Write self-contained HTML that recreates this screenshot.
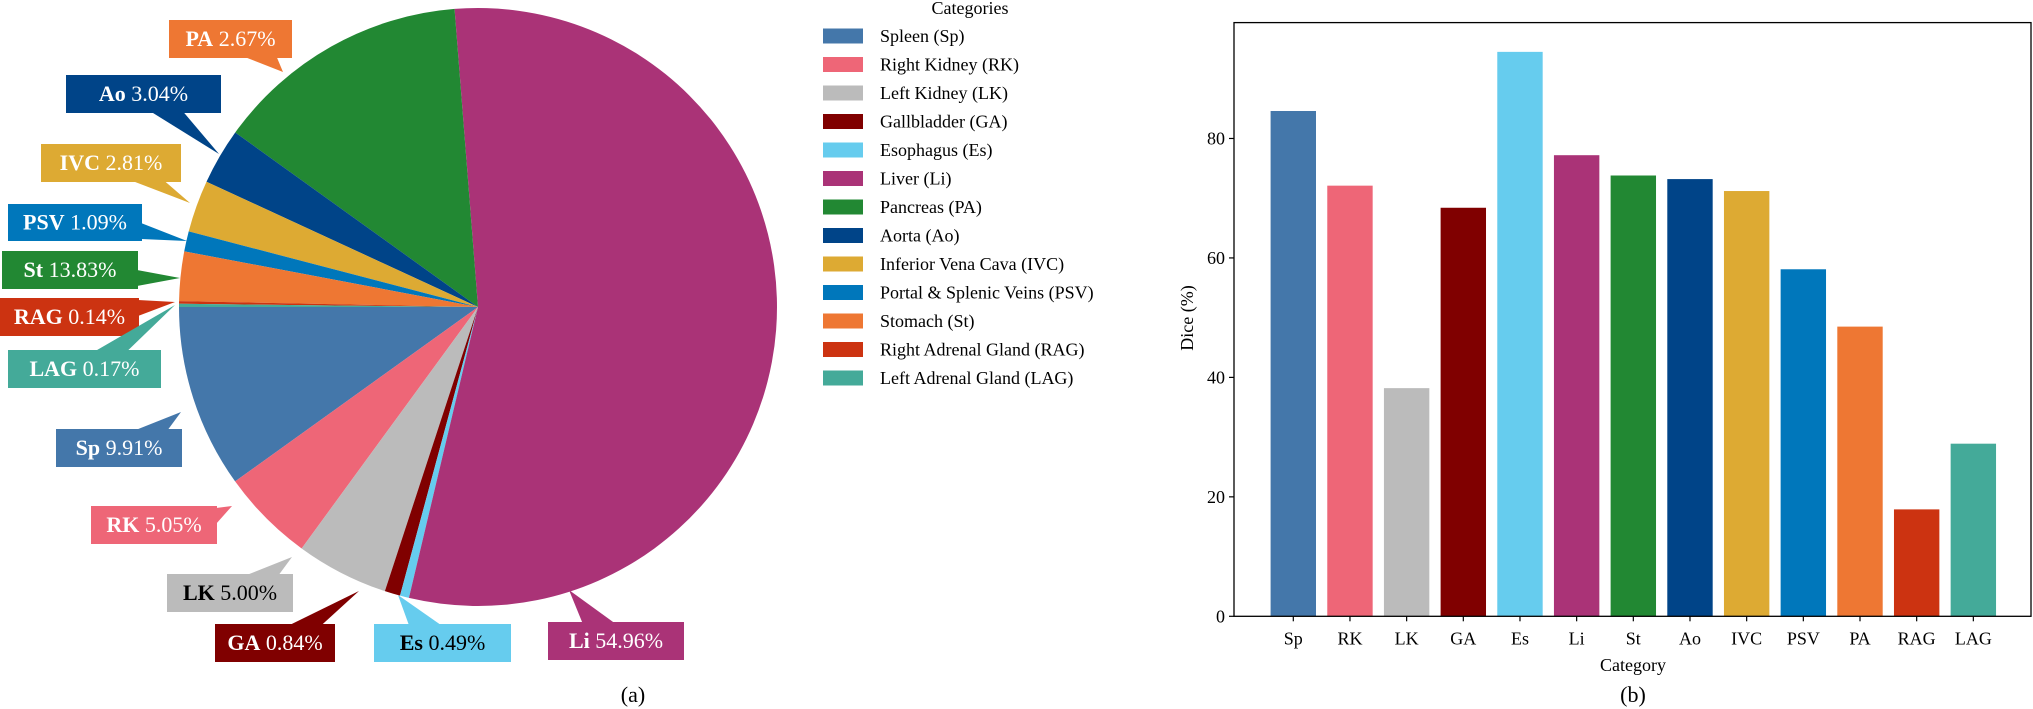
<!DOCTYPE html>
<html><head><meta charset="utf-8"><style>
html,body{margin:0;padding:0;background:#fff;}
svg{display:block;font-family:"Liberation Serif",serif;}
</style></head><body>
<svg id="fig" width="2033" height="709" viewBox="0 0 2033 709" xmlns="http://www.w3.org/2000/svg">
<g id="pie"></g>
<g id="legend"></g>
<g id="bar"></g>
<text x="633" y="702" font-size="22" text-anchor="middle">(a)</text>
<text x="1633" y="702" font-size="22" text-anchor="middle">(b)</text>
</svg>
<script>
// ---- Pie data ----
const pieLabels = ["Sp","RK","LK","GA","Es","Li","St","Ao","IVC","PSV","PA","RAG","LAG"];
const pieValues = [9.91,5.05,5.00,0.84,0.49,54.96,13.83,3.04,2.81,1.09,2.67,0.14,0.17];
const pieColors = ["#4477AA","#EE6677","#BBBBBB","#800000","#66CCEE","#AA3377","#228833","#004488","#DDAA33","#0077BB","#EE7733","#CC3311","#44AA99"];
// ---- Legend ----
const legendNames = ["Spleen (Sp)","Right Kidney (RK)","Left Kidney (LK)","Gallbladder (GA)","Esophagus (Es)","Liver (Li)","Pancreas (PA)","Aorta (Ao)","Inferior Vena Cava (IVC)","Portal & Splenic Veins (PSV)","Stomach (St)","Right Adrenal Gland (RAG)","Left Adrenal Gland (LAG)"];
// ---- Bar data ----
const barCats = ["Sp","RK","LK","GA","Es","Li","St","Ao","IVC","PSV","PA","RAG","LAG"];
const barValues = [84.6,72.1,38.2,68.4,94.5,77.2,73.8,73.2,71.2,58.1,48.5,17.9,28.9];
const barColors = ["#4477AA","#EE6677","#BBBBBB","#800000","#66CCEE","#AA3377","#228833","#004488","#DDAA33","#0077BB","#EE7733","#CC3311","#44AA99"];
const yTicks = [0,20,40,60,80];

const NS="http://www.w3.org/2000/svg";
function mk(tag,attrs,parent){const e=document.createElementNS(NS,tag);for(const k in attrs)e.setAttribute(k,attrs[k]);parent.appendChild(e);return e;}

// Pie
const pie=document.getElementById('pie');
const cx=478,cy=307,R=299;
const total=pieValues.reduce((a,b)=>a+b,0);
let ang=180;
function pt(a){const r=a*Math.PI/180;return [cx+R*Math.cos(r),cy-R*Math.sin(r)];}
pieValues.forEach((v,i)=>{
  const a0=ang,a1=ang+v/total*360;ang=a1;
  const p0=pt(a0),p1=pt(a1);const large=(a1-a0)>180?1:0;
  const p=mk('path',{d:`M${cx},${cy} L${p0[0]},${p0[1]} A${R},${R} 0 ${large} 0 ${p1[0]},${p1[1]} Z`,fill:pieColors[i]},pie);
  
  
});
// annotation layout (box x,y,w,h, tip x,y)
const boxes={
 PA:[169,20,123,38,283,72], Ao:[66,75,155,38,219,154], IVC:[41,144,140,38,190,203],
 PSV:[8,204,134,37,187,241], St:[2,251,136,38,180,278], RAG:[0,298,139,38,175,302],
 LAG:[8,350,153,38,175,305], Sp:[56,429,126,38,181,412], RK:[91,506,126,38,232,506],
 LK:[167,574,126,38,292,557], GA:[215,624,120,38,359,591], Es:[374,624,137,38,398,595],
 Li:[548,622,136,38,569,590]
};
pieLabels.forEach((lab,i)=>{
  const b=boxes[lab];const [x,y,w,h,tx,ty]=b;
  const g=mk('g',{},pie);
  
  
  const bx=x+w/2,by=y+h/2;
  let pts;
  if(ty>y+h){ // below
    const ex=Math.min(Math.max(bx+(tx-bx)*((y+h-by)/(ty-by)),x+18),x+w-18);
    pts=`${tx},${ty} ${ex-16},${y+h-1} ${ex+16},${y+h-1}`;
  } else if(ty<y){ // above
    const ex=Math.min(Math.max(bx+(tx-bx)*((y-by)/(ty-by)),x+18),x+w-18);
    pts=`${tx},${ty} ${ex-16},${y+1} ${ex+16},${y+1}`;
  } else { // right
    const ey=Math.min(Math.max(ty,y+10),y+h-10);
    pts=`${tx},${ty} ${x+w-1},${ey-8} ${x+w-1},${ey+8}`;
  }
  mk('polygon',{points:pts,fill:pieColors[i]},g);
  mk('rect',{x:x,y:y,width:w,height:h,fill:pieColors[i]},g);
  const dark=(lab==="LK"||lab==="Es");
  const t=mk('text',{x:bx,y:by+7,'font-size':22,'text-anchor':'middle',fill:dark?'#000':'#fff'},g);
  const t1=mk('tspan',{'font-weight':'bold'},t);t1.textContent=lab;
  const t2=mk('tspan',{},t);t2.textContent=' '+pieValues[i].toFixed(2)+'%';
});

// Legend
const lg=document.getElementById('legend');
const lt=mk('text',{x:970,y:14,'font-size':18,'text-anchor':'middle'},lg);lt.textContent='Categories';


legendNames.forEach((n,i)=>{
  const y=36+i*28.5;
  const g=mk('g',{},lg);
  
  
  mk('rect',{x:823,y:y-7.5,width:40,height:15,fill:pieColors[i]},g);
  const t=mk('text',{x:880,y:y+6,'font-size':18},g);t.textContent=n;
});

// Bar chart
const bar=document.getElementById('bar');
const X0=1234,X1=2031,Y0=616.3,Y1=22.6,ymax=99.4;
const ys=v=>Y0-(Y0-Y1)*v/ymax;
const step=56.67, c0=1293.3;
const xs=i=>c0+step*i;
barValues.forEach((v,i)=>{
  const r=mk('rect',{x:xs(i)-22.7,y:ys(v),width:45.4,height:Y0-ys(v),fill:barColors[i]},bar);
  
  
  mk('line',{x1:xs(i),x2:xs(i),y1:Y0,y2:Y0+5,stroke:'#000','stroke-width':1.2},bar);
  const t=mk('text',{x:xs(i),y:Y0+28,'font-size':18,'text-anchor':'middle'},bar);t.textContent=barCats[i];
  
  
});
const fr=mk('rect',{x:X0,y:Y1,width:X1-X0,height:Y0-Y1,fill:'none',stroke:'#000','stroke-width':1.3},bar);


yTicks.forEach(v=>{
  mk('line',{x1:X0-5,x2:X0,y1:ys(v),y2:ys(v),stroke:'#000','stroke-width':1.2},bar);
  const t=mk('text',{x:X0-9,y:ys(v)+6,'font-size':18,'text-anchor':'end'},bar);t.textContent=v;
  
  
});
const yl=mk('text',{x:0,y:0,'font-size':18,'text-anchor':'middle',transform:'translate(1193,318) rotate(-90)'},bar);yl.textContent='Dice (%)';


const xl=mk('text',{x:1633,y:671,'font-size':18,'text-anchor':'middle'},bar);xl.textContent='Category';


</script>
</body></html>
